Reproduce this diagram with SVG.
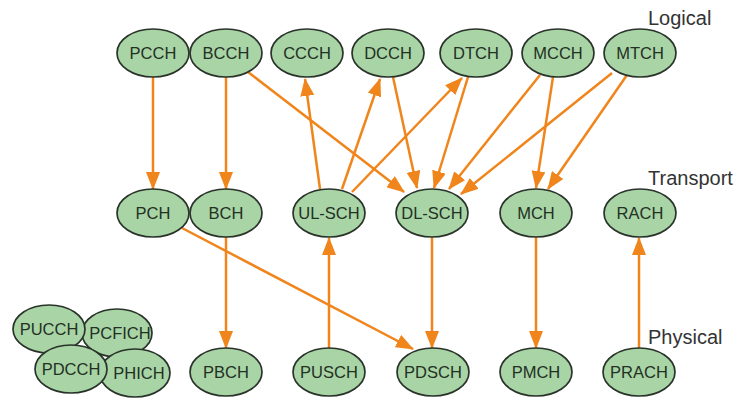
<svg xmlns="http://www.w3.org/2000/svg" width="737" height="399" viewBox="0 0 737 399">
<style>
.n ellipse{fill:#a8d4a6;stroke:#2a332a;stroke-width:1.7}
.n text{font-family:"Liberation Sans",Arial,sans-serif;font-size:16.5px;fill:#233023;text-anchor:middle;dominant-baseline:central}
.lbl{font-family:"Liberation Sans",Arial,sans-serif;font-size:20px;fill:#333}
.e line{stroke:#f0851c;stroke-width:2.5;fill:none;marker-end:url(#ah)}
</style>
<defs>
<marker id="ah" markerUnits="userSpaceOnUse" markerWidth="18" markerHeight="14" refX="17" refY="7" orient="auto">
<path d="M0,0 L18,7 L0,14 Z" fill="#f0851c"/>
</marker>
</defs>
<rect width="737" height="399" fill="#fff"/>
<text class="lbl" x="648" y="25">Logical</text>
<text class="lbl" x="648" y="185">Transport</text>
<text class="lbl" x="648" y="344">Physical</text>
<g class="e" id="edges">
<line x1="153" y1="77" x2="153" y2="189"/>
<line x1="226" y1="77" x2="226" y2="189"/>
<line x1="248" y1="72" x2="404" y2="192"/>
<line x1="320" y1="189" x2="305" y2="79"/>
<line x1="342" y1="189" x2="380" y2="79"/>
<line x1="352" y1="192" x2="462" y2="78"/>
<line x1="393" y1="77" x2="417" y2="188"/>
<line x1="468" y1="77" x2="434" y2="188"/>
<line x1="540" y1="75" x2="449" y2="189"/>
<line x1="553" y1="77" x2="536" y2="188"/>
<line x1="612" y1="73" x2="461" y2="194"/>
<line x1="627" y1="75" x2="548" y2="189"/>
<line x1="182" y1="228" x2="413" y2="349"/>
<line x1="226" y1="237" x2="226" y2="348"/>
<line x1="329" y1="348" x2="329" y2="238"/>
<line x1="432" y1="237" x2="432" y2="348"/>
<line x1="536" y1="237" x2="536" y2="348"/>
<line x1="639" y1="348" x2="639" y2="238"/>
</g>
<g class="n" id="PCCH"><ellipse cx="153" cy="53" rx="36" ry="24"/><text x="153" y="53">PCCH</text></g>
<g class="n" id="BCCH"><ellipse cx="226" cy="53" rx="36" ry="24"/><text x="226" y="53">BCCH</text></g>
<g class="n" id="CCCH"><ellipse cx="307" cy="53" rx="36" ry="24"/><text x="307" y="53">CCCH</text></g>
<g class="n" id="DCCH"><ellipse cx="388" cy="53" rx="36" ry="24"/><text x="388" y="53">DCCH</text></g>
<g class="n" id="DTCH"><ellipse cx="476" cy="53" rx="36" ry="24"/><text x="476" y="53">DTCH</text></g>
<g class="n" id="MCCH"><ellipse cx="558" cy="53" rx="36" ry="24"/><text x="558" y="53">MCCH</text></g>
<g class="n" id="MTCH"><ellipse cx="640" cy="53" rx="36" ry="24"/><text x="640" y="53">MTCH</text></g>
<g class="n" id="PCH"><ellipse cx="153" cy="213" rx="36" ry="24"/><text x="153" y="213">PCH</text></g>
<g class="n" id="BCH"><ellipse cx="226" cy="213" rx="36" ry="24"/><text x="226" y="213">BCH</text></g>
<g class="n" id="UL-SCH"><ellipse cx="329" cy="213" rx="36" ry="24"/><text x="329" y="213">UL-SCH</text></g>
<g class="n" id="DL-SCH"><ellipse cx="432" cy="213" rx="36" ry="24"/><text x="432" y="213">DL-SCH</text></g>
<g class="n" id="MCH"><ellipse cx="536" cy="213" rx="36" ry="24"/><text x="536" y="213">MCH</text></g>
<g class="n" id="RACH"><ellipse cx="640" cy="213" rx="36" ry="24"/><text x="640" y="213">RACH</text></g>
<g class="n" id="PCFICH"><ellipse cx="117" cy="333" rx="35" ry="24"/><text x="120" y="333">PCFICH</text></g>
<g class="n" id="PHICH"><ellipse cx="135" cy="373" rx="35" ry="24"/><text x="139" y="373">PHICH</text></g>
<g class="n" id="PUCCH"><ellipse cx="49" cy="329" rx="36" ry="24"/><text x="49" y="329">PUCCH</text></g>
<g class="n" id="PDCCH"><ellipse cx="71" cy="369" rx="36" ry="24"/><text x="71" y="369">PDCCH</text></g>
<g class="n" id="PBCH"><ellipse cx="226" cy="372" rx="36" ry="24"/><text x="226" y="372">PBCH</text></g>
<g class="n" id="PUSCH"><ellipse cx="329" cy="372" rx="36" ry="24"/><text x="329" y="372">PUSCH</text></g>
<g class="n" id="PDSCH"><ellipse cx="433" cy="372" rx="36" ry="24"/><text x="433" y="372">PDSCH</text></g>
<g class="n" id="PMCH"><ellipse cx="536" cy="372" rx="36" ry="24"/><text x="536" y="372">PMCH</text></g>
<g class="n" id="PRACH"><ellipse cx="639" cy="372" rx="36" ry="24"/><text x="639" y="372">PRACH</text></g>
</svg>
